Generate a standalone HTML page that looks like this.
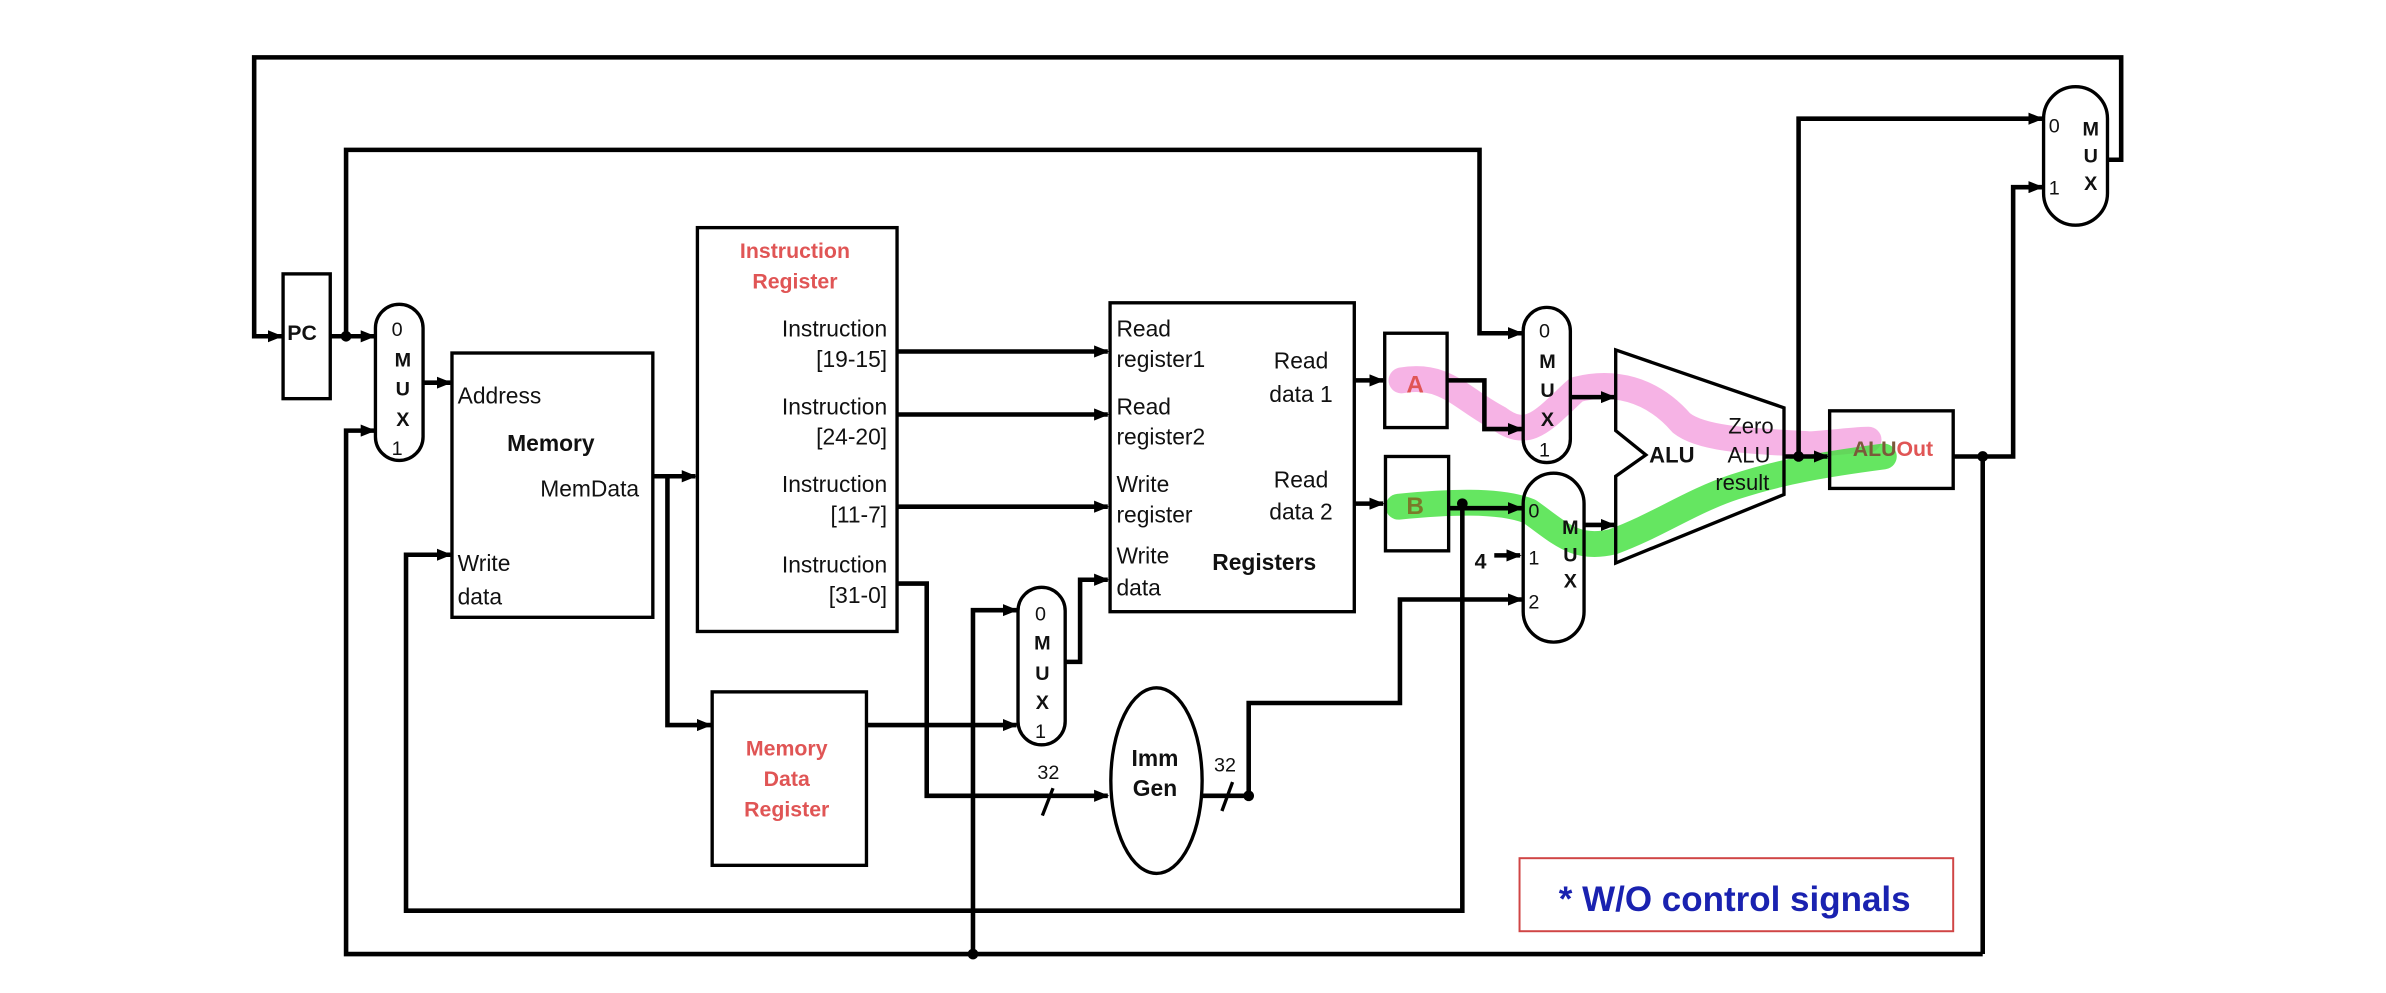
<!DOCTYPE html>
<html><head><meta charset="utf-8"><style>
html,body{margin:0;padding:0;background:#fff;}
svg{display:block;}
text{font-family:"Liberation Sans",sans-serif;fill:#111;}
.t{font-size:15px;}
.m{font-size:13px;font-weight:bold;}
.d{font-size:13px;}
.r text{fill:#e05555;font-weight:bold;font-size:14px;}
</style></head><body>
<svg width="2386" height="993" viewBox="0 0 1568 652.6" xmlns="http://www.w3.org/2000/svg">
<defs><marker id="a" markerWidth="10" markerHeight="8" refX="9" refY="4" orient="auto" markerUnits="userSpaceOnUse"><path d="M0,0 L10,4 L0,8 Z" fill="#000"/></marker></defs>
<rect width="1568" height="652.6" fill="#fff"/>
<g fill="none" stroke="#000" stroke-width="3">
<polyline points="1385,105 1394,105 1394,37.7 167,37.7 167,221 185,221" marker-end="url(#a)"/>
<polyline points="217,221 246,221" marker-end="url(#a)"/>
<polyline points="227.4,221 227.4,98.5 972.3,98.5 972.3,219 1000,219" marker-end="url(#a)"/>
<polyline points="1303,627 227.4,627 227.4,283 246,283" marker-end="url(#a)"/>
<polyline points="278,251.5 296,251.5" marker-end="url(#a)"/>
<polyline points="429,313 457,313" marker-end="url(#a)"/>
<polyline points="438.6,313 438.6,476.5 467,476.5" marker-end="url(#a)"/>
<polyline points="961,331 961,598.5 266.8,598.5 266.8,364.6 296,364.6" marker-end="url(#a)"/>
<polyline points="589.5,231 728,231" marker-end="url(#a)"/>
<polyline points="589.5,272.4 728,272.4" marker-end="url(#a)"/>
<polyline points="589.5,333 728,333" marker-end="url(#a)"/>
<polyline points="589.5,383.5 609,383.5 609,523 728,523" marker-end="url(#a)"/>
<polyline points="639.4,627 639.4,401 668,401" marker-end="url(#a)"/>
<polyline points="569.4,476.5 668,476.5" marker-end="url(#a)"/>
<polyline points="700,435 709.8,435 709.8,381 728,381" marker-end="url(#a)"/>
<polyline points="890,250 909,250" marker-end="url(#a)"/>
<polyline points="890,331 909,331" marker-end="url(#a)"/>
<polyline points="951,250 975.5,250 975.5,282 1000,282" marker-end="url(#a)"/>
<polyline points="952,334 1000,334" marker-end="url(#a)"/>
<polyline points="1032,261 1061,261" marker-end="url(#a)"/>
<polyline points="1041,345 1061,345" marker-end="url(#a)"/>
<polyline points="982,365 999,365" marker-end="url(#a)"/>
<polyline points="790,523 820.6,523 820.6,462 920,462 920,394 1000,394" marker-end="url(#a)"/>
<polyline points="1172.4,300 1201,300" marker-end="url(#a)"/>
<polyline points="1182,300 1182,78 1342,78" marker-end="url(#a)"/>
<polyline points="1284,300 1323,300 1323,123 1342,123" marker-end="url(#a)"/>
<polyline points="1303,300 1303,627"/>
</g>
<g stroke="#000" stroke-width="2.2">
<line x1="685" y1="536" x2="692" y2="518"/>
<line x1="803" y1="533" x2="810" y2="514"/>
</g>
<g fill="#000"><circle cx="227.4" cy="221" r="3.5"/><circle cx="639.4" cy="627" r="3.5"/><circle cx="961" cy="331" r="3.5"/><circle cx="820.6" cy="523" r="3.5"/><circle cx="1182" cy="300" r="3.5"/><circle cx="1303" cy="300" r="3.5"/></g>
<g fill="#fff" stroke="#000" stroke-width="2.2">
<rect x="186" y="180" width="31" height="82"/>
<rect x="246.7" y="200" width="31.3" height="102.6" rx="15.6"/>
<rect x="297" y="232" width="132" height="173.7"/>
<rect x="458.3" y="149.6" width="131.2" height="265.4"/>
<rect x="468" y="454.7" width="101.4" height="114"/>
<rect x="669" y="386" width="31" height="103.5" rx="15.5"/>
<rect x="729.5" y="199" width="160.5" height="203"/>
<ellipse cx="760" cy="513" rx="30" ry="61"/>
<rect x="910" y="219" width="41" height="62"/>
<rect x="910.5" y="300" width="41.5" height="62"/>
<rect x="1001" y="202" width="31" height="102" rx="15.5"/>
<rect x="1001" y="311" width="40" height="111" rx="20"/>
<polygon points="1061.8,230 1172.4,268 1172.4,325 1061.8,370 1061.8,313 1081.6,299 1061.8,283"/>
<rect x="1202.4" y="270" width="81.2" height="51"/>
<rect x="1343" y="57" width="42" height="91" rx="21"/>
</g>
<rect x="998.6" y="564" width="285" height="48" fill="none" stroke="#d04545" stroke-width="1.3"/>
<g style="mix-blend-mode:multiply" fill="none" stroke-linecap="round" stroke-linejoin="round" stroke-width="17">
<path d="M921,250 C950,245 960,262 985,275 C1005,290 1015,275 1036,256 C1060,250 1085,255 1105,278 C1120,290 1160,290 1190,292 C1205,291 1220,289 1228,289" stroke="#f4a6e0" opacity="0.85"/>
<path d="M919,333 C950,330 985,328 1005,336 C1025,350 1035,362 1060,356 C1090,345 1110,330 1140,320 C1170,310 1200,305 1238,300" stroke="#3ee03a" opacity="0.8"/>
</g>
<text x="198.5" y="219" text-anchor="middle" dominant-baseline="central" font-size="14" font-weight="bold">PC</text>
<g class="d" text-anchor="middle" dominant-baseline="central">
<text x="261" y="217">0</text><text x="261" y="295">1</text>
<text x="683.8" y="404">0</text><text x="683.8" y="481">1</text>
<text x="1015" y="218">0</text><text x="1015" y="296">1</text>
<text x="1008" y="336">0</text><text x="1008" y="367">1</text><text x="1008" y="396">2</text>
<text x="1350" y="83">0</text><text x="1350" y="124">1</text>
<text x="689" y="508">32</text><text x="805" y="503">32</text>
</g>
<g class="m" text-anchor="middle" dominant-baseline="central">
<text x="264.7" y="237">M</text><text x="264.7" y="256">U</text><text x="264.7" y="276">X</text>
<text x="685" y="423">M</text><text x="685" y="443">U</text><text x="685" y="462">X</text>
<text x="1017" y="238">M</text><text x="1017" y="257">U</text><text x="1017" y="276">X</text>
<text x="1032" y="347">M</text><text x="1032" y="365">U</text><text x="1032" y="382">X</text>
<text x="1374" y="85">M</text><text x="1374" y="103">U</text><text x="1374" y="121">X</text>
<text x="973" y="369" font-size="14">4</text>
</g>
<g class="t" dominant-baseline="central">
<text x="300.7" y="260">Address</text>
<text x="362" y="291" text-anchor="middle" font-weight="bold">Memory</text>
<text x="420" y="321" text-anchor="end">MemData</text>
<text x="300.7" y="370">Write</text><text x="300.7" y="392">data</text>
<g text-anchor="end">
<text x="583" y="216">Instruction</text><text x="583" y="236">[19-15]</text>
<text x="583" y="267">Instruction</text><text x="583" y="287">[24-20]</text>
<text x="583" y="318">Instruction</text><text x="583" y="338">[11-7]</text>
<text x="583" y="371">Instruction</text><text x="583" y="391">[31-0]</text>
</g>
<text x="733.7" y="216">Read</text><text x="733.7" y="236">register1</text>
<text x="733.7" y="267">Read</text><text x="733.7" y="287">register2</text>
<text x="733.7" y="318">Write</text><text x="733.7" y="338">register</text>
<text x="733.7" y="365">Write</text><text x="733.7" y="386">data</text>
<text x="830.8" y="369.5" text-anchor="middle" font-weight="bold">Registers</text>
<text x="855" y="237" text-anchor="middle">Read</text><text x="855" y="259" text-anchor="middle">data 1</text>
<text x="855" y="315" text-anchor="middle">Read</text><text x="855" y="336" text-anchor="middle">data 2</text>
<text x="759" y="498" text-anchor="middle" font-weight="bold">Imm</text><text x="759" y="518" text-anchor="middle" font-weight="bold">Gen</text>
<text x="1098.7" y="299" text-anchor="middle" font-weight="bold" font-size="14.5">ALU</text>
<text x="1150.7" y="280" text-anchor="middle" font-size="14.5">Zero</text>
<text x="1149.4" y="299" text-anchor="middle" font-size="14.5">ALU</text>
<text x="1145" y="317" text-anchor="middle" font-size="14.5">result</text>
</g>
<g class="r" text-anchor="middle" dominant-baseline="central">
<text x="522.4" y="165">Instruction</text><text x="522.4" y="185">Register</text>
<text x="517" y="492">Memory</text><text x="517" y="512">Data</text><text x="517" y="532">Register</text>
<text x="930" y="253" style="font-size:16px">A</text>
<text x="930" y="333" style="font-size:16px;fill:#7a7a2a">B</text>
<text x="1244" y="295"><tspan style="fill:#7a5a3a">ALU</tspan>Out</text>
</g>
<text x="1140" y="591" text-anchor="middle" dominant-baseline="central" font-weight="bold" font-size="23" style="fill:#1a22b0">* W/O control signals</text>
</svg>
</body></html>
